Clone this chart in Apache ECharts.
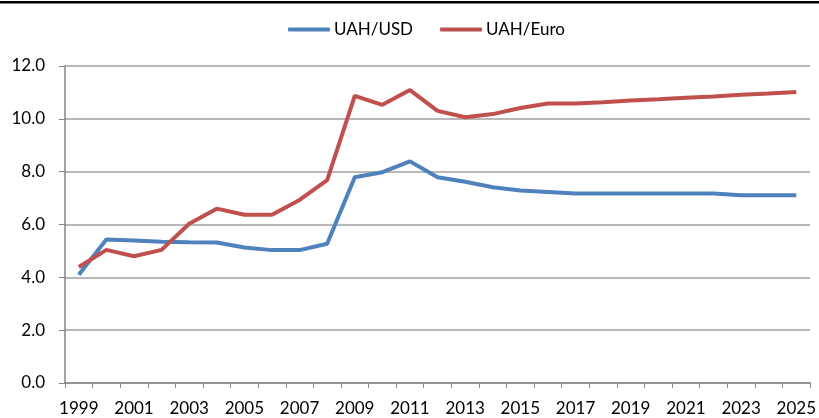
<!DOCTYPE html>
<html><head><meta charset="utf-8">
<script src="https://cdn.jsdelivr.net/npm/echarts@6/dist/echarts.min.js"></script>
<style>html,body{margin:0;padding:0;background:#fff}#c{width:819px;height:418px}</style>
</head><body><div id="c"></div>
<script>
var years = ['1999','2000','2001','2002','2003','2004','2005','2006','2007','2008','2009','2010','2011','2012','2013','2014','2015','2016','2017','2018','2019','2020','2021','2022','2023','2024','2025'];
var uahUsd = [4.10,5.43,5.39,5.35,5.33,5.32,5.13,5.03,5.03,5.27,7.79,7.98,8.39,7.79,7.62,7.41,7.29,7.23,7.17,7.17,7.17,7.17,7.17,7.17,7.11,7.11,7.11];
var uahEuro = [4.39,5.04,4.80,5.04,6.03,6.60,6.37,6.37,6.93,7.68,10.87,10.53,11.09,10.30,10.06,10.18,10.41,10.58,10.58,10.63,10.69,10.74,10.80,10.85,10.91,10.96,11.02];
var seriesNames = ['UAH/USD','UAH/Euro'];
var FONT = 'Lato, "Open Sans", sans-serif';
var chart = echarts.init(document.getElementById('c'));
chart.setOption({
  animation:false,
  backgroundColor:'#fff',
  graphic:[{type:'rect',shape:{x:0,y:1,width:819,height:2.5},style:{fill:'#000'}}],
  legend:{top:16,left:283,itemWidth:42,itemHeight:4,itemGap:27,
    icon:'roundRect',
    textStyle:{fontFamily:FONT,fontSize:17,color:'#000',padding:[0,0,0,-1]},
    data:seriesNames},
  grid:{left:65,right:8,top:66,bottom:35},
  xAxis:{type:'category',data:years,boundaryGap:true,
    axisLine:{lineStyle:{color:'#868686',width:1.5}},
    axisTick:{show:true,interval:0,length:5,lineStyle:{color:'#868686'}},
    axisLabel:{interval:1,margin:17,fontFamily:FONT,fontSize:17,color:'#000'},
    splitLine:{show:false}},
  yAxis:{type:'value',min:0,max:12,interval:2,
    axisLine:{show:true,lineStyle:{color:'#868686',width:1.5}},
    axisTick:{show:true,length:6,lineStyle:{color:'#868686'}},
    axisLabel:{margin:20,fontFamily:FONT,fontSize:17,color:'#000',formatter:function(v){return v.toFixed(1);}},
    splitLine:{lineStyle:{color:'#A0A0A0',width:1.5}}},
  series:[
    {name:seriesNames[0],type:'line',data:uahUsd,symbol:'none',lineStyle:{color:'#4F81BD',width:4},itemStyle:{color:'#4F81BD'}},
    {name:seriesNames[1],type:'line',data:uahEuro,symbol:'none',lineStyle:{color:'#C0504D',width:4},itemStyle:{color:'#C0504D'}}
  ]
});
</script></body></html>
